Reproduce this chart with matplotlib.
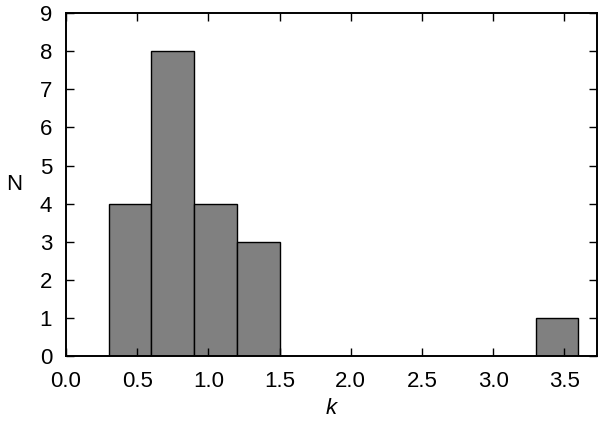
import matplotlib
matplotlib.use("Agg")
import matplotlib.pyplot as plt
import numpy as np

bin_edges = [0.3, 0.6, 0.9, 1.2, 1.5, 1.8, 2.1, 2.4, 2.7, 3.0, 3.3, 3.6]
counts = [4, 8, 4, 3, 0, 0, 0, 0, 0, 0, 1]
xticks = [0.0, 0.5, 1.0, 1.5, 2.0, 2.5, 3.0, 3.5]
yticks = list(range(0, 10))

plt.rcParams['font.family'] = ['Liberation Sans', 'DejaVu Sans']
plt.rcParams['font.size'] = 16

fig = plt.figure(figsize=(6, 4.23), dpi=100)
ax = fig.add_axes([0.11, 0.158, 0.885, 0.811])

lefts = np.array(bin_edges[:-1])
widths = np.diff(bin_edges)
for l, w, c in zip(lefts, widths, counts):
    if c > 0:
        ax.bar(l, c, width=w, align='edge', color='#808080', edgecolor='black', linewidth=1.0)

ax.set_xlim(0, 3.73)
ax.set_ylim(0, 9)
ax.set_xticks(xticks)
ax.set_xticklabels([f"{v:.1f}" for v in xticks])
ax.set_yticks(yticks)
ax.tick_params(direction='in', top=True, right=True, length=6, width=1.0, labelsize=16)
ax.tick_params(axis='x', pad=11)
ax.tick_params(axis='y', pad=10)
for s in ax.spines.values():
    s.set_linewidth(1.4)
ax.set_xlabel('k', style='italic', fontsize=16, labelpad=4)
ax.set_ylabel('N', rotation=0, fontsize=16, labelpad=18, va='center')

fig.savefig('out.png', dpi=100)
